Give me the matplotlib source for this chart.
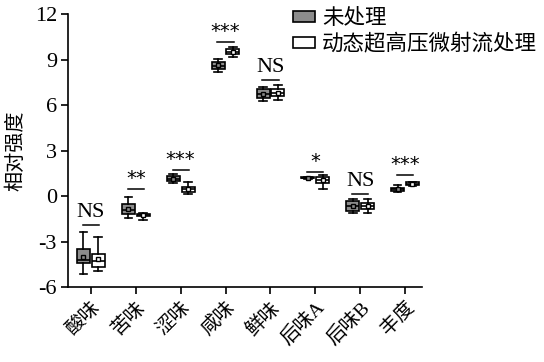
import matplotlib
matplotlib.use("Agg")
import matplotlib.pyplot as plt
from matplotlib.patches import Patch
from matplotlib.font_manager import FontProperties, findfont
import numpy as np

categories = ["酸味", "苦味", "涩味", "咸味", "鲜味", "后味A", "后味B", "丰度"]
series_names = ["未处理", "动态超高压微射流处理"]

# summary stats per category: whisker low, Q1, median, Q3, whisker high, mean
ctrl_lo   = [-5.14, -1.47, 0.88, 8.20, 6.26, 1.12, -1.10, 0.24]
ctrl_q1   = [-4.44, -1.21, 0.98, 8.37, 6.50, 1.16, -0.99, 0.36]
ctrl_med  = [-4.20, -0.92, 1.15, 8.60, 6.75, 1.20, -0.65, 0.46]
ctrl_q3   = [-3.49, -0.55, 1.32, 8.85, 7.03, 1.24, -0.31, 0.55]
ctrl_hi   = [-2.39, -0.05, 1.43, 9.03, 7.20, 1.28, -0.20, 0.72]
ctrl_mean = [-4.00, -0.88, 1.15, 8.62, 6.75, 1.20, -0.65, 0.46]

trt_lo   = [-4.94, -1.56, 0.11, 9.18, 6.33, 0.46, -1.10, 0.68]
trt_q1   = [-4.66, -1.34, 0.28, 9.34, 6.59, 0.84, -0.88, 0.72]
trt_med  = [-4.25, -1.27, 0.45, 9.50, 6.80, 1.05, -0.65, 0.80]
trt_q3   = [-3.84, -1.19, 0.61, 9.73, 7.05, 1.27, -0.48, 0.90]
trt_hi   = [-2.68, -1.10, 0.90, 9.84, 7.32, 1.38, -0.20, 0.95]
trt_mean = [-4.17, -1.27, 0.45, 9.52, 6.82, 1.05, -0.65, 0.82]

sig_labels = ["NS", "**", "***", "***", "NS", "*", "NS", "***"]
sig_line_y = [-1.90, 0.46, 1.71, 10.17, 7.65, 1.60, 0.13, 1.38]

yticks = [-6, -3, 0, 3, 6, 9, 12]

SERIF = "Liberation Serif"
CJK = "Noto Sans CJK SC"
serif_fp = lambda size: FontProperties(fname=findfont(SERIF), size=size)
plt.rcParams["font.family"] = [SERIF, CJK]

fig = plt.figure(figsize=(5.44, 3.62), dpi=100)
ax = fig.add_axes([0.125, 0.207, 0.651, 0.754])

x = np.arange(len(categories))
off = 0.165
w = 0.29

def make_stats(lo, q1, med, q3, hi, mean):
    return [dict(whislo=a, q1=b, med=c, q3=d, whishi=e, mean=f, fliers=[])
            for a, b, c, d, e, f in zip(lo, q1, med, q3, hi, mean)]

GRAY = "#8c8c8c"
for stats, pos, fc in [
    (make_stats(ctrl_lo, ctrl_q1, ctrl_med, ctrl_q3, ctrl_hi, ctrl_mean), x - off, GRAY),
    (make_stats(trt_lo, trt_q1, trt_med, trt_q3, trt_hi, trt_mean), x + off, "white"),
]:
    ax.bxp(stats, positions=pos, widths=w, patch_artist=True, showmeans=True,
           showfliers=False, capwidths=0.17,
           boxprops=dict(facecolor=fc, edgecolor="black", linewidth=1.2),
           medianprops=dict(color="black", linewidth=1.2),
           whiskerprops=dict(color="black", linewidth=1.2),
           capprops=dict(color="black", linewidth=1.2),
           meanprops=dict(marker="s", markersize=3.2, markerfacecolor=fc,
                          markeredgecolor="black", markeredgewidth=1.0))

for xi, lab, ly in zip(x, sig_labels, sig_line_y):
    ax.plot([xi - 0.18, xi + 0.18], [ly, ly], color="black", lw=1.1)
    if lab == "NS":
        ax.text(xi, ly + 0.2, lab, ha="center", va="bottom",
                fontproperties=serif_fp(16))
    else:
        ax.text(xi, ly + 0.68, lab, ha="center", va="center", fontsize=14,
                family="DejaVu Sans", color="black")

ax.set_xlim(-0.51, 7.38)
ax.set_ylim(-6, 12)
ax.set_yticks(yticks)
ax.set_yticklabels([str(t) for t in yticks], fontproperties=serif_fp(16))
ax.set_xticks(x)
ax.set_xticklabels(categories, rotation=45, ha="right", va="top",
                   rotation_mode="anchor", fontsize=14, family=[SERIF, CJK])
ax.set_ylabel("相对强度", fontsize=14.5, family=[CJK], labelpad=6)

for s in ["top", "right"]:
    ax.spines[s].set_visible(False)
for s in ["left", "bottom"]:
    ax.spines[s].set_linewidth(1.2)
ax.tick_params(axis="both", direction="out", length=5, width=1.2, pad=3)

handles = [Patch(facecolor=GRAY, edgecolor="black", linewidth=1.2),
           Patch(facecolor="white", edgecolor="black", linewidth=1.2)]
leg = fig.legend(handles, series_names, loc="upper left",
                 bbox_to_anchor=(291 / 544, 1 - 5 / 362), frameon=False,
                 prop=dict(family=[CJK], size=15.5), handlelength=1.0,
                 handleheight=0.4, handletextpad=0.35, labelspacing=0.2,
                 borderpad=0.1, borderaxespad=0.0)

fig.savefig("out.png", dpi=100)
